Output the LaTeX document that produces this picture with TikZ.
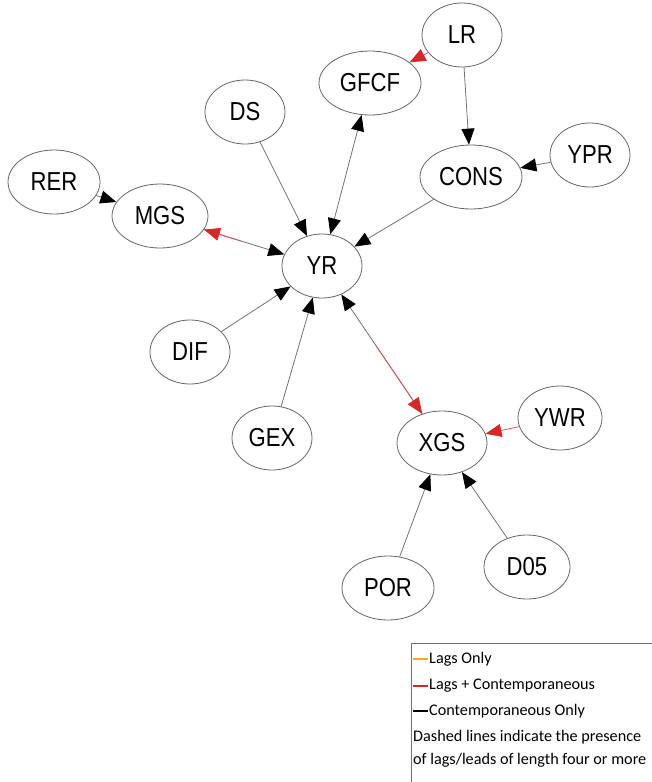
\documentclass[tikz,border=0pt]{standalone}
\usepackage{fontspec}
\setmainfont{Liberation Sans}
\newfontfamily\varfont[FakeStretch=0.85]{Liberation Sans}
\newfontfamily\keyfont{Carlito}
\usetikzlibrary{shapes.geometric,arrows.meta,calc}

\definecolor{linkred}{RGB}{214,40,40}
\definecolor{lagorange}{RGB}{250,170,40}

\tikzset{
  head/.tip={Triangle[length=16pt,width=13pt,color=black]},
  redhead/.tip={Triangle[length=16pt,width=13pt,color=linkred]},
  var/.style={ellipse, draw=black!60, line width=0.8pt, minimum width=80pt,
    minimum height=64pt, inner sep=0pt, font=\varfont\fontsize{26}{26}\selectfont},
  wide/.style={minimum width=102pt},
  link/.style={draw=black!55, line width=0.8pt, -head},
  redlink/.style={draw=linkred!80, line width=0.8pt, -redhead},
  keyline/.style={line width=1.6pt},
  keytext/.style={anchor=west, inner sep=0pt, font=\keyfont\fontsize{16.2}{16.2}\selectfont}
}

\begin{document}
\begin{tikzpicture}[x=1pt, y=-1pt]
    \useasboundingbox (0,0) rectangle (652,782);

    % variables
    \node[var] (LR)   at (462, 35)  {LR};
    \node[var, wide] (GFCF) at (370, 83)  {GFCF};
    \node[var] (DS)   at (245,112)  {DS};
    \node[var] (YPR)  at (590,155)  {YPR};
    \node[var, wide] (CONS) at (471,177)  {CONS};
    \node[var, minimum width=92pt] (RER)  at ( 54,182)  {RER};
    \node[var, minimum width=96pt] (MGS)  at (160,216)  {MGS};
    \node[var] (YR)   at (322,266)  {YR};
    \node[var] (DIF)  at (190,352)  {DIF};
    \node[var] (GEX)  at (272,438)  {GEX};
    \node[var, minimum width=90pt] (XGS)  at (442,443)  {XGS};
    \node[var, minimum width=84pt] (YWR)  at (560,418)  {YWR};
    \node[var, minimum width=92pt] (POR)  at (388,588)  {POR};
    \node[var, minimum width=86pt] (D05)  at (527,567)  {D05};

    % contemporaneous links
    \draw[link] (LR) -- (CONS);
    \draw[link] (YPR) -- (CONS);
    \draw[link] (DS) -- (YR);
    \draw[link, head-head] (YR) -- (GFCF);
    \draw[link] (CONS) -- (YR);
    \draw[link] (RER) -- (MGS);
    \draw[link] (DIF) -- (YR);
    \draw[link] (GEX) -- (YR);
    \draw[link] (POR) -- (XGS);
    \draw[link] (D05) -- (XGS);

    % lags + contemporaneous
    \draw[redlink] (LR) -- (GFCF);
    \draw[redlink] (YWR) -- (XGS);
    \draw[link, head-] (YR) -- (MGS);
    \draw[redlink] ($(YR)!0.5!(MGS)$) -- (MGS);
    \draw[link, head-] (YR) -- (XGS);
    \draw[redlink] ($(YR)!0.45!(XGS)$) -- (XGS);

    % key
    \draw[black!55, line width=1pt] (411,790) -- (411,643) -- (660,643);
    \draw[keyline, lagorange] (413,659) -- (428,659);
    \node[keytext] (k1) at (429,659) {Lags Only};
    \draw[keyline, linkred] (413,686) -- (428,686);
    \node[keytext] (k2) at (429,686) {Lags + Contemporaneous};
    \draw[keyline, black] (413,711) -- (428,711);
    \node[keytext] (k3) at (429,711) {Contemporaneous Only};
    \node[keytext] (k4) at (413,737) {Dashed lines indicate the presence};
    \node[keytext] (k5) at (413,760) {of lags/leads of length four or more};
\end{tikzpicture}
\end{document}
